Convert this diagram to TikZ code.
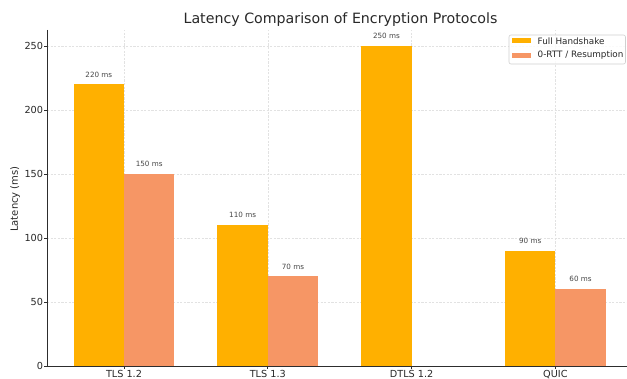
\documentclass[tikz,border=0pt]{standalone}
\usepackage{fontspec}
\setmainfont{DejaVu Sans}
\definecolor{handshake}{RGB}{255,176,0}
\definecolor{resume}{RGB}{246,150,101}
\definecolor{gridgray}{RGB}{226,226,226}
\definecolor{framegray}{RGB}{208,208,208}
\definecolor{axisgray}{RGB}{45,45,45}
\definecolor{textgray}{RGB}{40,40,40}
\definecolor{labelgray}{RGB}{70,70,70}

\begin{document}
\begin{tikzpicture}[x=1pt,y=1pt,
  gridline/.style={draw=gridgray, line width=0.55pt, dash pattern=on 2.2pt off 1.4pt},
  spine/.style={draw=axisgray, line width=0.8pt},
  tickmark/.style={draw=axisgray, line width=0.7pt},
  ticklabel/.style={font=\fontsize{9.7}{11}\selectfont, text=textgray, inner sep=0pt},
  legendlabel/.style={font=\fontsize{8.8}{10}\selectfont, text=textgray, inner sep=0pt},
  barlabel/.style={font=\fontsize{7.2}{8}\selectfont, text=labelgray, inner sep=0pt},
  fullbar/.style={fill=handshake},
  resbar/.style={fill=resume},
]
\useasboundingbox (0,0) rectangle (627,379);
\fill[white] (0,0) rectangle (627,379);

% plot area: one x unit per protocol, one y unit per millisecond
\begin{scope}[shift={(124pt,13pt)}, x=143.8pt, y=1.28pt]
  % dashed grid behind the bars
  \foreach \v in {50,100,...,250}
    \draw[gridline] (-0.535,\v) -- (3.498,\v);
  \foreach \i in {0,1,2,3}
    \draw[gridline] (\i,0) -- (\i,262.5);

  % bars
  \fill[fullbar] (-0.35,0) rectangle (0,220);
  \fill[resbar]  (0,0)     rectangle (0.35,150);
  \fill[fullbar] (0.65,0)  rectangle (1,110);
  \fill[resbar]  (1,0)     rectangle (1.35,70);
  \fill[fullbar] (1.65,0)  rectangle (2,250);
  \fill[fullbar] (2.65,0)  rectangle (3,90);
  \fill[resbar]  (3,0)     rectangle (3.35,60);

  % value labels
  \node[barlabel, yshift=10pt] (v1) at (-0.175,220) {220 ms};
  \node[barlabel, yshift=10pt] (v2) at (0.175,150) {150 ms};
  \node[barlabel, yshift=10pt] (v3) at (0.825,110) {110 ms};
  \node[barlabel, yshift=10pt] (v4) at (1.175,70) {70 ms};
  \node[barlabel, yshift=10pt] (v5) at (1.825,250) {250 ms};
  \node[barlabel, yshift=10pt] (v6) at (2.825,90) {90 ms};
  \node[barlabel, yshift=10pt] (v7) at (3.175,60) {60 ms};

  % axes
  \draw[spine] (-0.535,262.5) -- (-0.535,0) -- (3.498,0);
  \foreach \v in {0,50,...,250}{
    \draw[tickmark] (-0.535,\v) -- ++(-3pt,0);
    \node[ticklabel, anchor=east, xshift=-3.8pt] (yt\v) at (-0.535,\v) {\v};
  }
  \foreach \i/\name in {0/TLS 1.2,1/TLS 1.3,2/DTLS 1.2,3/QUIC}{
    \draw[tickmark] (\i,0) -- ++(0,-3pt);
    \node[ticklabel, anchor=north, yshift=-4pt] (xt\i) at (\i,0) {\name};
  }
\end{scope}

% axis title and chart title
\node[font=\fontsize{10}{12}\selectfont, text=textgray, inner sep=0pt, rotate=90] (ylab) at (15,180) {Latency (ms)};
\node[font=\fontsize{14.2}{16}\selectfont, text=textgray, inner sep=0pt, anchor=base] (title) at (340.5,355.7) {Latency Comparison of Encryption Protocols};

% legend
\draw[draw=framegray, fill=white, fill opacity=0.85, line width=0.6pt, rounded corners=2pt] (509,344) rectangle (625.5,315);
\fill[handshake] (512.3,335.7) rectangle (531,340.9);
\fill[resume]    (512.3,321.2) rectangle (531,326.4);
\node[legendlabel, anchor=west] (leg1) at (537.5,338.2) {Full Handshake};
\node[legendlabel, anchor=west] (leg2) at (537.5,323.7) {0-RTT / Resumption};
\end{tikzpicture}
\end{document}
